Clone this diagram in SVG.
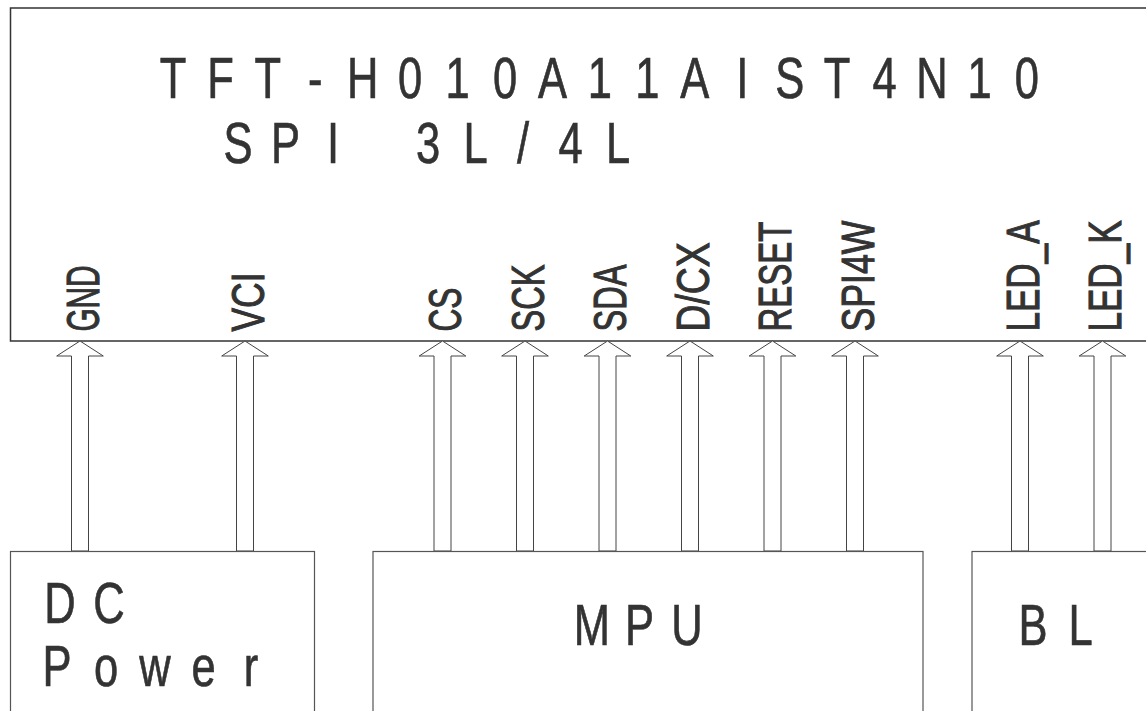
<svg xmlns="http://www.w3.org/2000/svg" xmlns:xlink="http://www.w3.org/1999/xlink" width="1146" height="711" viewBox="0 0 1146 711">
<style>
.box{fill:#fff;stroke:#333;stroke-width:1.5}
.sbox{fill:#fff;stroke:#555;stroke-width:1.2}
.big{font-family:"Liberation Sans",Arial,sans-serif;font-size:58px;fill:#333;stroke:#333;stroke-width:0.7;text-anchor:middle}
.lbl{font-family:"Liberation Sans",Arial,sans-serif;font-size:46px;fill:#333;stroke:#333;stroke-width:1.1}
.arr{fill:#fff;stroke:#444;stroke-width:1}
</style>
<defs>
<path id="arrow" class="arr" d="M0,341 L23.3,356 L8.5,356 L8.5,551 L-8.5,551 L-8.5,356 L-23.3,356 Z"/>
</defs>
<rect width="1146" height="711" fill="#fff"/>
<g id="node-tft">
<rect class="box" x="10.5" y="8" width="1150" height="333"/>
<g transform="scale(0.75,1)">
<text class="big" y="98.3" x="230.67 293.92 357.17 420.43 483.68 546.93 610.19 673.44 736.69 799.95 863.2 926.45 989.71 1052.96 1116.21 1179.47 1242.72 1305.97 1369.23">TFT-H010A11AIST4N10</text>
<text class="big" y="162.7" x="317.33 380.67 444 507.33 570.67 634 697.33 760.67 824">SPI 3L/4L</text>
</g>
<text class="lbl" transform="translate(98.5,331.5) rotate(-90)" textLength="66" lengthAdjust="spacingAndGlyphs">GND</text>
<text class="lbl" transform="translate(263.5,331.5) rotate(-90)" textLength="59" lengthAdjust="spacingAndGlyphs">VCI</text>
<text class="lbl" transform="translate(461,331.5) rotate(-90)" textLength="44" lengthAdjust="spacingAndGlyphs">CS</text>
<text class="lbl" transform="translate(543.5,331.5) rotate(-90)" textLength="67" lengthAdjust="spacingAndGlyphs">SCK</text>
<text class="lbl" transform="translate(626,331.5) rotate(-90)" textLength="67" lengthAdjust="spacingAndGlyphs">SDA</text>
<text class="lbl" transform="translate(708.5,331.5) rotate(-90)" textLength="89" lengthAdjust="spacingAndGlyphs">D/CX</text>
<text class="lbl" transform="translate(791,331.5) rotate(-90)" textLength="110" lengthAdjust="spacingAndGlyphs">RESET</text>
<text class="lbl" transform="translate(873.5,331.5) rotate(-90)" textLength="111" lengthAdjust="spacingAndGlyphs">SPI4W</text>
<text class="lbl" transform="translate(1038.5,331.5) rotate(-90)" textLength="111" lengthAdjust="spacingAndGlyphs">LED_A</text>
<text class="lbl" transform="translate(1121,331.5) rotate(-90)" textLength="111" lengthAdjust="spacingAndGlyphs">LED_K</text>
</g>
<g id="connectors">
<use xlink:href="#arrow" href="#arrow" x="80"/>
<use xlink:href="#arrow" href="#arrow" x="245"/>
<use xlink:href="#arrow" href="#arrow" x="442.5"/>
<use xlink:href="#arrow" href="#arrow" x="525"/>
<use xlink:href="#arrow" href="#arrow" x="607.5"/>
<use xlink:href="#arrow" href="#arrow" x="690"/>
<use xlink:href="#arrow" href="#arrow" x="772.5"/>
<use xlink:href="#arrow" href="#arrow" x="855"/>
<use xlink:href="#arrow" href="#arrow" x="1020"/>
<use xlink:href="#arrow" href="#arrow" x="1102.5"/>
</g>
<g id="node-dc">
<rect class="sbox" x="10.5" y="551.5" width="304" height="200"/>
<g transform="scale(0.75,1)">
<text class="big" y="623.3" x="80 145.33">DC</text>
<text class="big" y="686" x="76 141.33 206.67 271.33 334.67">Power</text>
</g>
</g>
<g id="node-mpu">
<rect class="sbox" x="373" y="551.5" width="550" height="200"/>
<text class="big" transform="scale(0.75,1)" y="645" x="789.33 852.67 916">MPU</text>
</g>
<g id="node-bl">
<rect class="sbox" x="972" y="551.5" width="200" height="200"/>
<text class="big" transform="scale(0.75,1)" y="645" x="1377.33 1440.67">BL</text>
</g>
</svg>
